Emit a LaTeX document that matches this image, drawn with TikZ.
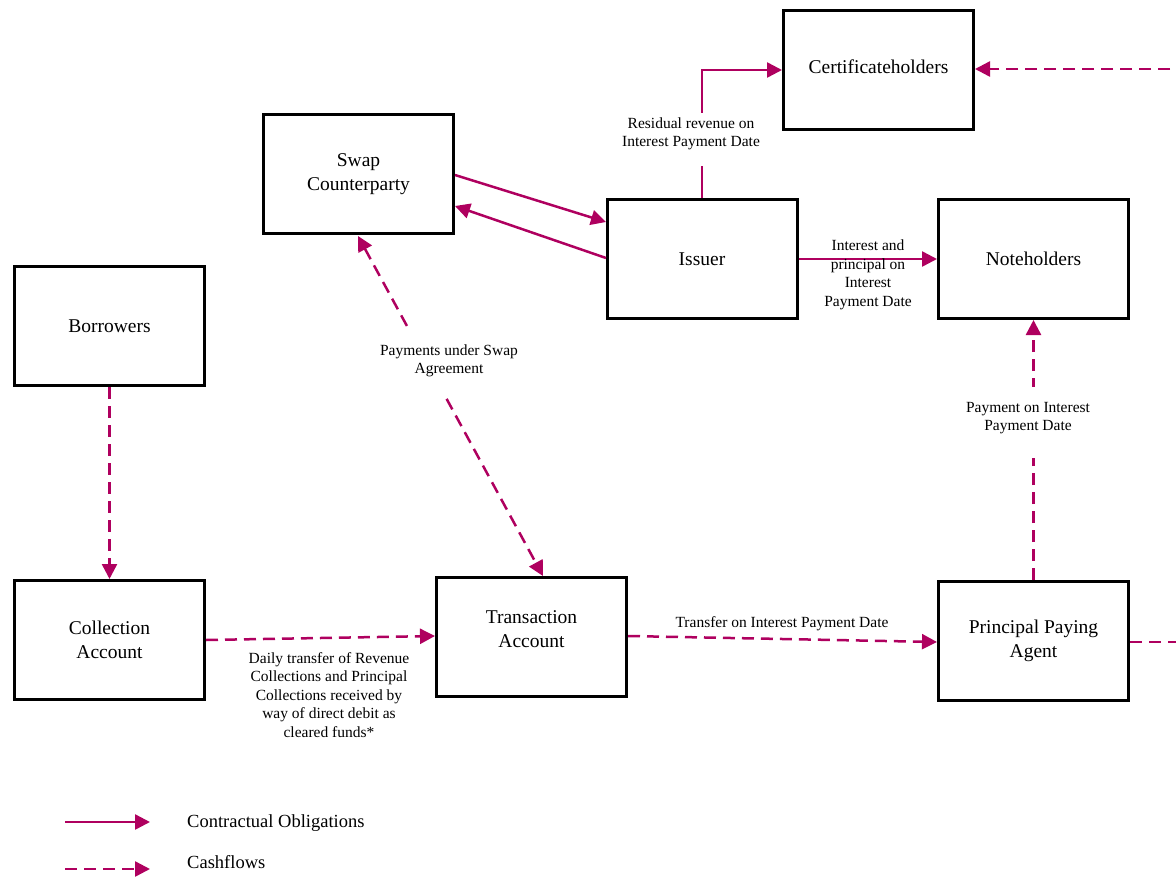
\documentclass[tikz,border=0pt]{standalone}
\usepackage{fontspec}
\setmainfont{Liberation Serif}
\usetikzlibrary{arrows.meta}
\definecolor{mag}{RGB}{175,0,95}
\begin{document}
\begin{tikzpicture}[x=1pt,y=-1pt,
  box/.style={draw=black,line width=3pt,minimum width=190pt,minimum height=119pt,align=center,font=\fontsize{19.5}{24}\selectfont,inner sep=0pt},
  lbl/.style={align=center,font=\fontsize{15.5}{18.5}\selectfont,inner sep=1pt},
  gap/.style={fill=white,inner sep=0pt},
  obl/.style={draw=mag,line width=2.5pt,-{Triangle[length=15pt,width=15pt]}},
  cash/.style={draw=mag,line width=2.5pt,dash pattern=on 12pt off 7pt,-{Triangle[length=15pt,width=15pt]}}]
\useasboundingbox (0,0) rectangle (1176,881);
\node[box] (cert) at (878.5,69.5) {Certificateholders\\[-18pt]\mbox{}};
\node[box] (swap) at (358.5,174) {Swap\\Counterparty};
\node[box] (issuer) at (702,259) {Issuer};
\node[box] (note) at (1033.5,259) {Noteholders};
\node[box] (borr) at (109.5,326) {Borrowers};
\node[box] (coll) at (109.5,640) {Collection\\Account};
\node[box] (trans) at (531.5,637) {Transaction\\Account\\[-8pt]\mbox{}};
\node[box] (ppa) at (1033.5,641) {Principal Paying\\Agent};
% contractual
\draw[obl] (455,175) -- (606,222);
\draw[obl] (606,258) -- (455,206);
\coordinate (c1) at (702,70);
\draw[obl] (issuer.north) -- (c1) -- (cert.west |- c1);
\node[gap,minimum width=150pt,minimum height=53pt] (gres) at (691,139.5) {};
\node[lbl] (lres) at (691,134) {Residual revenue on\\Interest Payment Date};
\draw[obl] (issuer.east |- 0,259) -- (note.west |- 0,259);
\node[lbl] (lint) at (868,275) {Interest and\\principal on\\Interest\\Payment Date};
% cashflows
\draw[cash] (borr.south) -- (coll.north -| borr.south);
\draw[cash,{Triangle[length=15pt,width=15pt]}-{Triangle[length=15pt,width=15pt]}] (358,236) -- (543,576);
\node[gap,minimum width=160pt,minimum height=70pt] (gswap) at (449,363) {};
\node[lbl] (lswap) at (449,361) {Payments under Swap\\Agreement};
\draw[cash] (206,640) -- (435,636);
\node[lbl] (ldaily) at (329,695) {Daily transfer of Revenue\\Collections and Principal\\Collections received by\\way of direct debit as\\cleared funds*};
\draw[cash] (628,636) -- (937,642);
\node[lbl] (ltr) at (782,624) {Transfer on Interest Payment Date};
\draw[cash] (ppa.north) -- (note.south);
\node[gap,minimum width=130pt,minimum height=71pt] (gpay) at (1030,422) {};
\node[lbl] (lpay) at (1028,418) {Payment on Interest\\Payment Date};
\coordinate (r1) at (1177,642);
\coordinate (r2) at (1177,69);
\draw[cash] (1130,642) -- (r1) -- (r2) -- (975,69);
% legend
\coordinate (la1) at (65,822); \coordinate (la2) at (150,822);
\coordinate (lb1) at (65,869); \coordinate (lb2) at (150,869);
\draw[obl] (la1) -- (la2);
\draw[cash] (lb1) -- (lb2);
\node[anchor=west,font=\fontsize{18.5}{22}\selectfont,inner sep=0pt] (lg1) at (187,823) {Contractual Obligations};
\node[anchor=west,font=\fontsize{18.5}{22}\selectfont,inner sep=0pt] (lg2) at (187,862) {Cashflows};
\end{tikzpicture}
\end{document}
